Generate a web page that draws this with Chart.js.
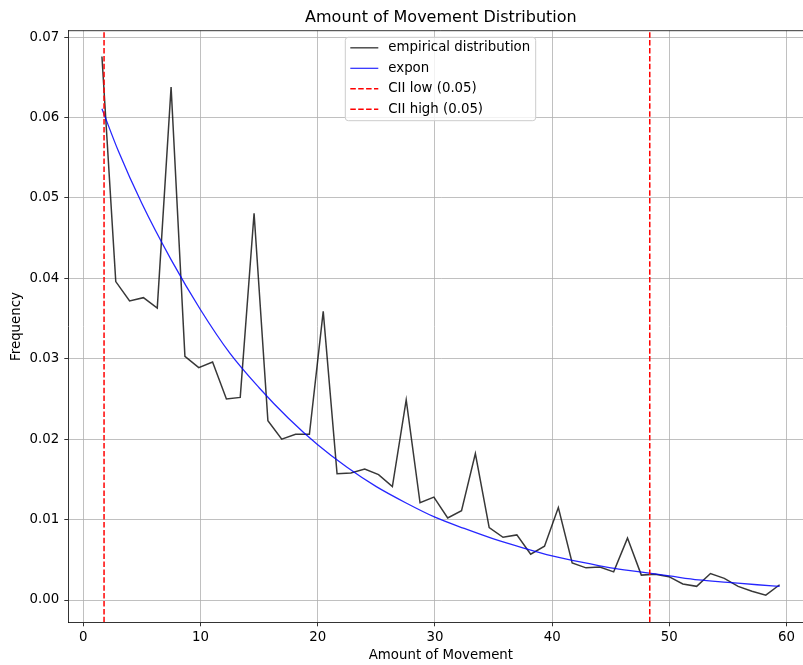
<!DOCTYPE html>
<html>
<head>
<meta charset="utf-8">
<script src="https://cdn.jsdelivr.net/npm/chart.js@4/dist/chart.umd.min.js"></script>
<style>
  html, body { margin: 0; padding: 0; background: #fff; overflow: hidden; }
  #wrap { width: 803px; height: 665px; overflow: hidden; }
  #chart { display: block; }
</style>
</head>
<body>
<div id="wrap"><canvas id="chart" width="830" height="665"></canvas></div>
<script>
// histogram bin centres and the empirical frequencies
const binCenters = [
    1.59, 2.77, 3.95, 5.13, 6.31, 7.49, 8.67, 9.85, 11.03, 12.21,
    13.39, 14.57, 15.75, 16.93, 18.11, 19.29, 20.47, 21.65, 22.83, 24.01,
    25.19, 26.37, 27.55, 28.73, 29.91, 31.09, 32.27, 33.45, 34.63, 35.81,
    36.99, 38.17, 39.35, 40.53, 41.71, 42.89, 44.07, 45.25, 46.43, 47.61,
    48.79, 49.97, 51.15, 52.33, 53.51, 54.69, 55.87, 57.05, 58.23, 59.41
]
const empirical = [
    0.0676, 0.0396, 0.0372, 0.0376, 0.0363, 0.0638, 0.0303, 0.0289, 0.0296, 0.0250,
    0.0252, 0.0481, 0.0223, 0.0200, 0.0206, 0.0206, 0.0359, 0.0157, 0.0158, 0.0163,
    0.0156, 0.0141, 0.0249, 0.0121, 0.0128, 0.0102, 0.0111, 0.0182, 0.0090, 0.0078,
    0.0081, 0.0057, 0.0067, 0.0115, 0.0046, 0.0040, 0.0041, 0.0035, 0.0077, 0.0031,
    0.0032, 0.0029, 0.0020, 0.0017, 0.0033, 0.0027, 0.0017, 0.0011, 0.0006, 0.0019
]

// fitted expon curve
const exponX = [
    1.59, 3, 5, 7.5, 10, 12.5, 15, 17.5, 20, 22.5, 25, 27.5, 30,
    32.5, 35, 37.5, 40, 42.5, 45, 47.5, 50, 52.5, 55, 57.5, 59.41
]
const exponY = [
    0.0611, 0.0558, 0.0493, 0.0423, 0.0361, 0.0307, 0.0264, 0.0226, 0.0193, 0.0165, 0.0141, 0.0121, 0.0103,
    0.0089, 0.0076, 0.0065, 0.0055, 0.0047, 0.0040, 0.0035, 0.0030, 0.0025, 0.0022, 0.0019, 0.0017
]

const ciiLow = 1.77
const ciiHigh = 48.33

const xTicks = [0, 10, 20, 30, 40, 50, 60]
const xTickLabels = ['0', '10', '20', '30', '40', '50', '60']
const yTicks = [0, 0.01, 0.02, 0.03, 0.04, 0.05, 0.06, 0.07]
const yTickLabels = ['0.00', '0.01', '0.02', '0.03', '0.04', '0.05', '0.06', '0.07']

const xMin = -1.28, xMax = 62.3
const yMin = -0.00277, yMax = 0.0708

const FONT = 'DejaVu Sans'
const FS = 13.33
Chart.defaults.font.family = FONT
Chart.defaults.font.size = FS
Chart.defaults.color = '#000'

const legendItems = [
    { label: 'empirical distribution', color: 'rgba(0,0,0,0.7)', width: 1.5, dash: [] },
    { label: 'expon', color: 'rgba(0,0,255,0.85)', width: 1.2, dash: [] },
    { label: 'CII low (0.05)', color: '#ff0000', width: 1.5, dash: [5.5, 2.4] },
    { label: 'CII high (0.05)', color: '#ff0000', width: 1.5, dash: [5.5, 2.4] }
]

// title, top spine and the in-axes legend, drawn matplotlib style
// (the right spine sits past the edge of the picture)
const decor = {
    id: 'decor',
    afterDatasetsDraw (chart) {
        const { ctx, chartArea: a } = chart
        ctx.save()
        ctx.strokeStyle = '#000'
        ctx.lineWidth = 0.8
        ctx.beginPath()
        ctx.moveTo(a.left, a.top)
        ctx.lineTo(a.right, a.top)
        ctx.stroke()

        // legend box
        const bx = 345.3, by = 37.3, bw = 190.4, bh = 83.4
        ctx.fillStyle = 'rgba(255,255,255,0.8)'
        ctx.strokeStyle = '#cccccc'
        ctx.lineWidth = 1
        ctx.beginPath()
        ctx.roundRect(bx, by, bw, bh, 3)
        ctx.fill()
        ctx.stroke()

        ctx.font = FS + 'px "' + FONT + '"'
        ctx.textBaseline = 'middle'
        ctx.textAlign = 'left'
        legendItems.forEach((item, i) => {
            const y = by + 10.5 + i * 20.5
            ctx.strokeStyle = item.color
            ctx.lineWidth = item.width
            ctx.setLineDash(item.dash)
            ctx.beginPath()
            ctx.moveTo(bx + 5, y)
            ctx.lineTo(bx + 33, y)
            ctx.stroke()
            ctx.setLineDash([])
            ctx.fillStyle = '#000'
            ctx.fillText(item.label, bx + 43, y)
        })

        ctx.font = '16px "' + FONT + '"'
        ctx.textAlign = 'center'
        ctx.textBaseline = 'alphabetic'
        ctx.fillText('Amount of Movement Distribution', (a.left + a.right) / 2, 21.7)
        ctx.restore()
    }
}

const vline = (x) => [{ x: x, y: yMin }, { x: x, y: yMax }]

new Chart(document.getElementById('chart'), {
    type: 'scatter',
    data: {
        datasets: [
            {
                label: 'empirical distribution',
                data: binCenters.map((x, i) => ({ x: x, y: empirical[i] })),
                showLine: true,
                borderColor: 'rgba(0,0,0,0.78)',
                borderWidth: 1.5,
                pointRadius: 0,
                order: 4
            },
            {
                label: 'expon',
                data: exponX.map((x, i) => ({ x: x, y: exponY[i] })),
                showLine: true,
                borderColor: 'rgba(0,0,255,0.85)',
                borderWidth: 1.3,
                pointRadius: 0,
                cubicInterpolationMode: 'monotone',
                order: 3
            },
            {
                label: 'CII low (0.05)',
                data: vline(ciiLow),
                showLine: true,
                borderColor: '#ff0000',
                borderWidth: 1.5,
                borderDash: [5.5, 2.4],
                pointRadius: 0,
                order: 2
            },
            {
                label: 'CII high (0.05)',
                data: vline(ciiHigh),
                showLine: true,
                borderColor: '#ff0000',
                borderWidth: 1.5,
                borderDash: [5.5, 2.4],
                pointRadius: 0,
                order: 1
            }
        ]
    },
    options: {
        responsive: false,
        animation: false,
        devicePixelRatio: 1,
        // the canvas is wider than the page so the axes run past its right edge
        layout: { padding: { left: 0, top: 30.7, right: 16.5, bottom: 0 } },
        plugins: {
            legend: { display: false },
            tooltip: { enabled: false }
        },
        scales: {
            x: {
                type: 'linear',
                min: xMin,
                max: xMax,
                afterBuildTicks: (scale) => { scale.ticks = xTicks.map(v => ({ value: v })) },
                afterFit: (scale) => { scale.height = 42.7 },
                ticks: {
                    padding: 3,
                    maxRotation: 0,
                    callback: (v, i) => xTickLabels[i]
                },
                grid: { color: '#b0b0b0', lineWidth: 0.8, tickColor: '#000', tickLength: 4, tickWidth: 0.8 },
                border: { color: '#000', width: 0.8 },
                title: { display: true, text: 'Amount of Movement', padding: { top: 0, bottom: 1 }, font: { size: FS } }
            },
            y: {
                type: 'linear',
                min: yMin,
                max: yMax,
                afterBuildTicks: (scale) => { scale.ticks = yTicks.map(v => ({ value: v })) },
                afterFit: (scale) => { scale.width = 68.3 },
                ticks: {
                    padding: 5,
                    callback: (v, i) => yTickLabels[i]
                },
                grid: { color: '#b0b0b0', lineWidth: 0.8, tickColor: '#000', tickLength: 4, tickWidth: 0.8 },
                border: { color: '#000', width: 0.8 },
                title: { display: true, text: 'Frequency', padding: { top: 9, bottom: 0 }, font: { size: FS } }
            }
        }
    },
    plugins: [decor]
})
</script>
</body>
</html>
